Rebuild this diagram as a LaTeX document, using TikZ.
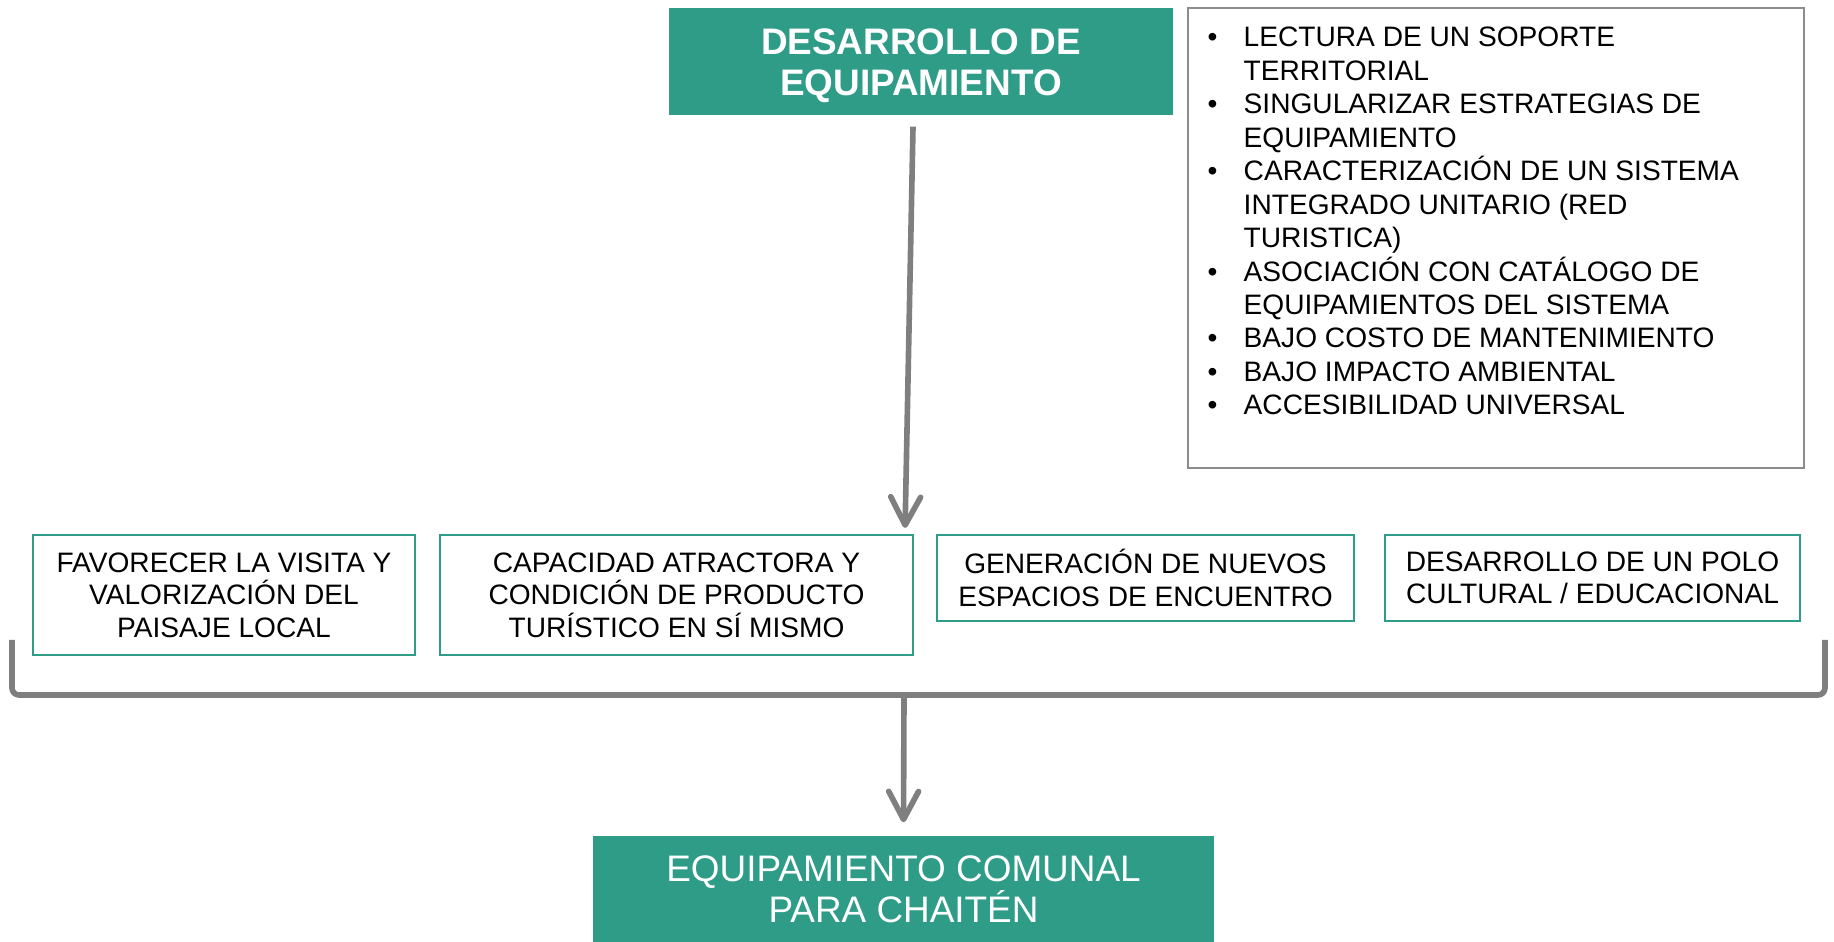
\documentclass[tikz,border=0pt]{standalone}
\usepackage{fontspec}
\setmainfont{Liberation Sans}
\usepackage{tikz}
\usepackage{tkz-euclide}
\usetikzlibrary{arrows.meta}
\definecolor{verde}{HTML}{2E9C87}
\definecolor{gris}{HTML}{7F7F7F}
\definecolor{grismarco}{HTML}{8C8C8C}

\begin{document}
\begin{tikzpicture}[scale=1,
  titulo/.style={fill=verde,text=white,align=center,inner sep=0pt,
    font=\fontsize{10.5}{11.7}\selectfont},
  caja/.style={draw=verde,line width=0.6pt,align=center,inner sep=0pt,
    font=\fontsize{8}{9.2}\selectfont},
  flecha/.style={draw=gris,line width=1.6pt,
    -{Straight Barb[length=8pt,width=8.5pt,round]}},
  llave/.style={draw=gris,line width=1.6pt,rounded corners=2pt}
]
\useasboundingbox (0,0) rectangle (18.34,9.42);

\node[titulo,minimum width=5.04cm,minimum height=1.07cm,
  font=\fontsize{10.5}{11.7}\selectfont\bfseries] (des) at (9.21,8.805)
  {\rule{0pt}{10pt}DESARROLLO DE\\EQUIPAMIENTO};

\node[draw=grismarco,line width=0.5pt,minimum width=6.16cm,minimum height=4.60cm,
  inner sep=0pt] (marco) at (14.96,7.04) {};
\node[anchor=base west,align=left,inner sep=0pt,
  font=\fontsize{8}{9.53}\selectfont] (lista) at (12.07,5.27) {%
\makebox[0.36cm][l]{\textbullet}LECTURA DE UN SOPORTE\\
\hspace*{0.36cm}TERRITORIAL\\
\makebox[0.36cm][l]{\textbullet}SINGULARIZAR ESTRATEGIAS DE\\
\hspace*{0.36cm}EQUIPAMIENTO\\
\makebox[0.36cm][l]{\textbullet}CARACTERIZACIÓN DE UN SISTEMA\\
\hspace*{0.36cm}INTEGRADO UNITARIO (RED\\
\hspace*{0.36cm}TURISTICA)\\
\makebox[0.36cm][l]{\textbullet}ASOCIACIÓN CON CATÁLOGO DE\\
\hspace*{0.36cm}EQUIPAMIENTOS DEL SISTEMA\\
\makebox[0.36cm][l]{\textbullet}BAJO COSTO DE MANTENIMIENTO\\
\makebox[0.36cm][l]{\textbullet}BAJO IMPACTO AMBIENTAL\\
\makebox[0.36cm][l]{\textbullet}ACCESIBILIDAD UNIVERSAL};

% fila de cajas
\node[caja,minimum width=3.82cm,minimum height=1.20cm] (c1) at (2.24,3.47)
  {FAVORECER LA VISITA Y\\VALORIZACIÓN DEL\\PAISAJE LOCAL};
\node[caja,minimum width=4.73cm,minimum height=1.20cm] (c2) at (6.765,3.47)
  {CAPACIDAD ATRACTORA Y\\CONDICIÓN DE PRODUCTO\\TURÍSTICO EN SÍ MISMO};
\node[caja,minimum width=4.17cm,minimum height=0.86cm] (c3) at (11.455,3.64)
  {GENERACIÓN DE NUEVOS\\ESPACIOS DE ENCUENTRO};
\node[caja,minimum width=4.15cm,minimum height=0.86cm] (c4) at (15.925,3.64)
  {DESARROLLO DE UN POLO\\CULTURAL / EDUCACIONAL};

\node[titulo,minimum width=6.21cm,minimum height=1.06cm] (equip) at (9.035,0.53)
  {EQUIPAMIENTO COMUNAL\\PARA CHAITÉN};

\draw[flecha] ([xshift=-0.08cm,yshift=-0.11cm]des.south)
  -- ([xshift=-0.09cm,yshift=0.06cm]c2.north east);

% llave
\tkzDefPoint(0.12,3.02){A}
\tkzDefPoint(0.12,2.47){B}
\tkzDefPoint(18.25,2.47){C}
\tkzDefPoint(18.25,3.02){D}
\tkzDefPoint(9.04,2.47){E}
\draw[llave] (A) -- (B) -- (C) -- (D);
\draw[flecha] (E) -- ([yshift=0.13cm]equip.north);
\end{tikzpicture}
\end{document}
